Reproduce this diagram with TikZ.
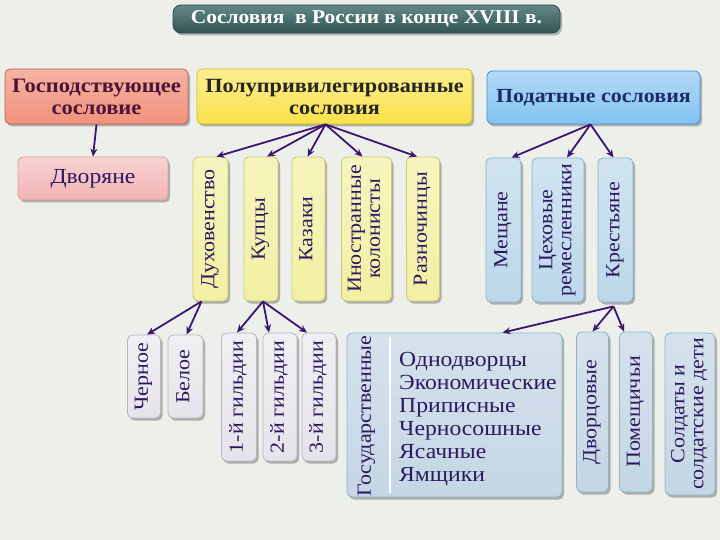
\documentclass[tikz,border=0pt]{standalone}
\usepackage{fontspec}
\setmainfont{Liberation Serif}[FakeStretch=1.1]
\usepackage{graphicx}
\usetikzlibrary{arrows.meta,shadows,calc}
\definecolor{paper}{HTML}{EDF0EA}
\definecolor{arrowc}{HTML}{3A1670}
\definecolor{inkc}{HTML}{2C1860}
\definecolor{maroon}{HTML}{4D1438}
\definecolor{navy}{HTML}{1E2A6A}
\definecolor{titlec}{HTML}{3D6A6A}
\definecolor{salmon}{HTML}{F2927C}
\definecolor{salmond}{HTML}{C0604E}
\definecolor{gold}{HTML}{F9E24A}
\definecolor{goldd}{HTML}{D9BC22}
\definecolor{sky}{HTML}{80C2F2}
\definecolor{skyd}{HTML}{4A8ED0}
\definecolor{rose}{HTML}{F2B4B4}
\definecolor{cream}{HTML}{F2F0A2}
\definecolor{creamd}{HTML}{CFC870}
\definecolor{ice}{HTML}{BCD8EA}
\definecolor{iced}{HTML}{8EB2CC}
\definecolor{pearl}{HTML}{E6E4EA}
\definecolor{pearld}{HTML}{B8B4C2}
\definecolor{frost}{HTML}{C4D6E4}
\newcommand{\vlabel}[1]{\rotatebox{90}{\begin{tabular}{@{}c@{}}#1\end{tabular}}}

\begin{document}
\begin{tikzpicture}[x=1pt,y=1pt,
    box/.style={rounded corners=5pt, line width=.8pt, inner sep=0pt,
      drop shadow={shadow xshift=2pt,shadow yshift=-2.5pt,opacity=.4,fill=black!70}},
    headbox/.style={box, align=center, font=\fontsize{20.5}{22}\selectfont\bfseries},
    vbox/.style={box, text=inkc, font=\fontsize{20}{19}\selectfont},
    ylw/.style={vbox, draw=creamd, top color=cream!70!white, bottom color=cream},
    blu/.style={vbox, draw=iced, top color=ice!70!white, bottom color=ice},
    prl/.style={vbox, draw=pearld, top color=pearl!60!white, bottom color=pearl},
    frs/.style={vbox, draw=iced, top color=frost!70!white, bottom color=frost},
    arr/.style={draw=arrowc, line width=1.8pt, -{Stealth[length=8pt,width=7pt]}}]
  \fill[paper] (0,0) rectangle (720,-540);
  \useasboundingbox (0,0) rectangle (720,-540);

  % title
  \node[box, rounded corners=8pt, draw=titlec!70!black, top color=titlec!80!white, bottom color=titlec!80!black,
    text=white, minimum width=387pt, minimum height=28pt, font=\fontsize{19.5}{22}\selectfont\bfseries]
    (title) at (366.5,-19) {Сословия\ \ в России в конце XVIII в.};

  % top row
  \node[headbox, draw=salmond, top color=salmon!70!white, bottom color=salmon, text=maroon,
    minimum width=183pt, minimum height=55pt] (gosp) at (96.5,-96.5) {Господствующее\\сословие};
  \node[headbox, draw=goldd, top color=gold!60!white, bottom color=gold, text=black!85,
    minimum width=275pt, minimum height=55pt, font=\fontsize{20.2}{22}\selectfont\bfseries] (polu) at (334.5,-96.5) {Полупривилегированные\\сословия};
  \node[headbox, draw=skyd, top color=sky!60!white, bottom color=sky, text=navy,
    minimum width=213pt, minimum height=53pt, font=\fontsize{20}{22}\selectfont\bfseries] (podat) at (593.5,-97.5) {Податные сословия};

  % second row
  \node[box, draw=salmond!60, top color=rose!60!white, bottom color=rose, text=inkc,
    minimum width=150pt, minimum height=43pt, font=\fontsize{21.5}{22}\selectfont] (dvor) at (93,-178.5) {Дворяне};

  \node[ylw, minimum width=35pt, minimum height=144pt] (duh) at (210.5,-229) {\vlabel{Духовенство}};
  \node[ylw, minimum width=34pt, minimum height=144pt] (kup) at (261,-229) {\vlabel{Купцы}};
  \node[ylw, minimum width=33pt, minimum height=144pt] (kaz) at (308.5,-229) {\vlabel{Казаки}};
  \node[ylw, minimum width=50pt, minimum height=144pt] (inos) at (366.5,-229) {\vlabel{Иностранные\\колонисты}};
  \node[ylw, minimum width=33pt, minimum height=144pt] (razn) at (423,-229) {\vlabel{Разночинцы}};

  \node[blu, minimum width=35pt, minimum height=144pt] (mesh) at (503.5,-230) {\vlabel{Мещане}};
  \node[blu, minimum width=52pt, minimum height=144pt] (tseh) at (558,-230) {\vlabel{Цеховые\\ремесленники}};
  \node[blu, minimum width=35pt, minimum height=144pt] (krest) at (615.5,-230) {\vlabel{Крестьяне}};

  % third row
  \node[prl, minimum width=33pt, minimum height=83pt] (cher) at (144,-376.5) {\vlabel{Черное}};
  \node[prl, minimum width=35pt, minimum height=83pt] (bel) at (185.5,-376.5) {\vlabel{Белое}};
  \node[prl, minimum width=35pt, minimum height=128pt] (gild1) at (239,-397) {\vlabel{1-й гильдии}};
  \node[prl, minimum width=34pt, minimum height=128pt] (gild2) at (280,-397) {\vlabel{2-й гильдии}};
  \node[prl, minimum width=34pt, minimum height=128pt] (gild3) at (319,-397) {\vlabel{3-й гильдии}};

  \node[frs, minimum width=215pt, minimum height=164pt] (gos) at (454.5,-415) {};
  \node[text=inkc, font=\fontsize{20}{19}\selectfont] (goslabel) at (367,-416) {\vlabel{Государственные}};
  \draw[double=white, double distance=1.5pt, draw=black!55, line width=.6pt] (390,-337) -- (390,-493);
  \node[anchor=west, align=left, inner sep=0pt, text=inkc, font=\fontsize{21.5}{23}\selectfont]
    (goslist) at (399,-419) {Однодворцы\\Экономические\\Приписные\\Черносошные\\Ясачные\\Ямщики};

  \node[frs, minimum width=32pt, minimum height=160pt] (dvorts) at (592.5,-412) {\vlabel{Дворцовые}};
  \node[frs, minimum width=33pt, minimum height=160pt] (pomesh) at (636,-412) {\vlabel{Помещичьи}};
  \node[frs, minimum width=50pt, minimum height=162pt] (sold) at (690,-414) {\vlabel{Солдаты и\\солдатские дети}};

  % arrows
  \draw[arr] (gosp.south) -- (dvor.north);
  \foreach \t/\dx in {duh/6, kup/6, kaz/-1, inos/-4, razn/-6}
    \draw[arr] ($(polu.south)+(-9,0)$) -- ($(\t.north)+(\dx,0)$);
  \foreach \t/\dx in {mesh/8, tseh/9, krest/-2}
    \draw[arr] ($(podat.south)+(-3,0)$) -- ($(\t.north)+(\dx,0)$);
  \foreach \t/\dx in {cher/3, bel/1}
    \draw[arr] ($(duh.south)+(-9,0)$) -- ($(\t.north)+(\dx,0)$);
  \foreach \t/\dx in {gild1/-2, gild2/-11, gild3/-12}
    \draw[arr] ($(kup.south)+(2,0)$) -- ($(\t.north)+(\dx,0)$);
  \foreach \t/\dx in {gos/48, dvorts/0, pomesh/-12}
    \draw[arr] ($(krest.south)+(-2,-4)$) -- ($(\t.north)+(\dx,0)$);
\end{tikzpicture}
\end{document}
